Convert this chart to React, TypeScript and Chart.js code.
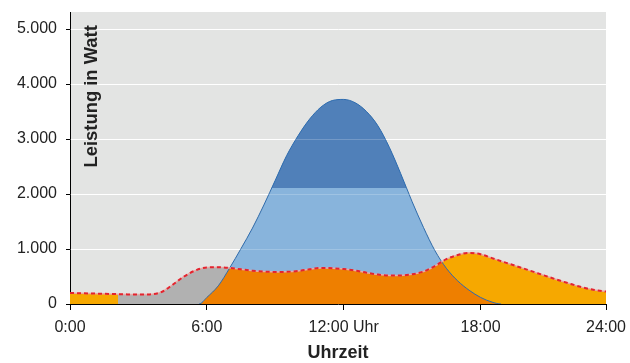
import React, { useEffect, useRef } from "react";
import { Chart, registerables } from "chart.js";

Chart.register(...registerables);

// Hours (axis units; last category 23.5 is labelled 24:00)
const consumptionHours = [0, 0.5, 1, 1.5, 2, 2.1, 2.5, 3, 3.5, 4, 4.5, 5, 5.5, 6, 6.5, 7, 7.5, 8, 8.5, 9, 9.5, 10, 10.5, 11, 11.5, 12, 12.5, 13, 13.5, 14, 14.5, 15, 15.5, 16, 16.5, 17, 17.5, 18, 18.5, 19, 19.5, 20, 20.5, 21, 21.5, 22, 22.5, 23, 23.5];
const consumptionWatt = [200, 195, 190, 185, 180, 179, 175, 172, 175, 215, 350, 500, 610, 665, 670, 655, 630, 605, 590, 582, 585, 600, 630, 655, 650, 635, 610, 570, 535, 520, 520, 540, 590, 690, 815, 890, 930, 905, 835, 765, 698, 630, 560, 490, 422, 358, 298, 256, 225];

const pvHours = [0, 5.66, 6, 6.5, 7, 7.5, 8, 8.5, 9, 9.5, 10, 10.5, 11, 11.5, 12, 12.5, 13, 13.5, 14, 14.5, 15, 15.5, 16, 16.5, 17, 17.5, 18, 18.5, 18.9, 23.5];
const pvWatt = [0, 0, 120, 330, 655, 1010, 1380, 1800, 2250, 2700, 3060, 3360, 3580, 3700, 3720, 3660, 3500, 3240, 2850, 2370, 1860, 1390, 970, 650, 420, 250, 120, 35, 0, 0];

const feedInLimit = 2110;
const gridStart = 2.1;
const gridEnd = 8;

const xTickValues = [0, 6, 12, 18, 23.5];
const xTickLabels = ["0:00", "6:00", "12:00 Uhr", "18:00", "24:00"];
const yTickValues = [0, 1000, 2000, 3000, 4000, 5000];
const yTickLabels = ["0", "1.000", "2.000", "3.000", "4.000", "5.000"];

const xTitle = "Uhrzeit";
const yTitle = "Leistung in Watt";

const FONT = "'Liberation Sans', Arial, sans-serif";
const DARK_BLUE_INDEX = 3;

export default function App() {
  const ref = useRef<HTMLCanvasElement | null>(null);

  useEffect(() => {
    document.body.style.margin = "0";
    const canvas = ref.current;
    if (!canvas) return;

    const cons = consumptionHours.map((x, i) => ({ x, y: consumptionWatt[i] }));
    const pv = pvHours.map((x, i) => ({ x, y: pvWatt[i] }));
    const consGrid = cons.filter((p) => p.x >= gridStart && p.x <= gridEnd);

    const base = {
      pointRadius: 0,
      borderWidth: 0,
      borderColor: "transparent",
      cubicInterpolationMode: "monotone" as const,
    };

    const bgPlugin = {
      id: "bg",
      beforeDraw(chart: any) {
        const { ctx, chartArea: a } = chart;
        ctx.save();
        ctx.fillStyle = "#e3e4e3";
        ctx.fillRect(a.left, a.top, a.right - a.left, a.bottom - a.top);
        ctx.restore();
      },
      afterDatasetDraw(chart: any, args: any) {
        if (args.index !== DARK_BLUE_INDEX) return;
        const { ctx, chartArea: a, scales } = chart;
        const line = args.meta.dataset;
        const pts = line.points;
        if (!pts || !pts.length) return;
        const yLim = scales.y.getPixelForValue(feedInLimit);
        ctx.save();
        ctx.beginPath();
        ctx.rect(a.left, a.top, a.right - a.left, yLim - a.top);
        ctx.clip();
        ctx.beginPath();
        line.path(ctx);
        ctx.lineTo(pts[pts.length - 1].x, a.bottom);
        ctx.lineTo(pts[0].x, a.bottom);
        ctx.closePath();
        ctx.fillStyle = "#5080b9";
        ctx.fill();
        ctx.restore();
      },
      afterDatasetsDraw(chart: any) {
        const { ctx, chartArea: a, scales } = chart;
        ctx.save();
        ctx.strokeStyle = "rgba(255,255,255,0.2)";
        ctx.lineWidth = 1;
        yTickValues.slice(1).forEach((v) => {
          const y = Math.round(scales.y.getPixelForValue(v)) + 0.5;
          ctx.beginPath();
          ctx.moveTo(a.left, y);
          ctx.lineTo(a.right, y);
          ctx.stroke();
        });
        ctx.restore();
      },
      afterDraw(chart: any) {
        const { ctx, chartArea: a } = chart;
        ctx.save();
        ctx.fillStyle = "#222";
        ctx.font = `bold 18px ${FONT}`;
        ctx.textAlign = "center";
        ctx.textBaseline = "middle";
        ctx.fillText(xTitle, (a.left + a.right) / 2, 353);
        ctx.translate(96.5, 167.5);
        ctx.rotate(-Math.PI / 2);
        ctx.textAlign = "left";
        ctx.textBaseline = "alphabetic";
        ctx.font = `bold 18.4px ${FONT}`;
        ctx.fillText(yTitle, 0, 0);
        ctx.restore();
      },
    };

    const chart = new Chart(canvas, {
      type: "line",
      data: {
        datasets: [
          // 0: consumption dashed line (top)
          {
            ...base,
            data: cons,
            borderColor: "#e3242f",
            borderWidth: 2,
            borderDash: [4, 3],
            fill: false,
          },
          // 1: pale underline of consumption
          {
            ...base,
            data: cons,
            borderColor: "rgba(235,170,170,0.9)",
            borderWidth: 1.5,
            fill: false,
          },
          // 2: PV outline
          {
            ...base,
            data: pv,
            borderColor: "#2c6cb3",
            borderWidth: 1,
            fill: false,
            segment: {
              borderColor: (c: any) =>
                c.p0.parsed.y === 0 && c.p1.parsed.y === 0 ? "transparent" : undefined,
            },
          },
          // 3: PV above feed-in limit (dark blue, filled by plugin)
          {
            ...base,
            data: pv,
            fill: false,
          },
          // 4: grid purchase (gray)
          {
            ...base,
            data: consGrid,
            fill: { target: 6, above: "#b1b1b1", below: "transparent" },
          },
          // 5: consumption above PV (yellow)
          {
            ...base,
            data: cons,
            fill: { target: 6, above: "#f6a800", below: "transparent" },
          },
          // 6: PV above consumption (light blue)
          {
            ...base,
            data: pv,
            fill: { target: 7, above: "#88b4dc", below: "transparent" },
          },
          // 7: self consumption base (dark orange)
          {
            ...base,
            data: cons,
            fill: { target: "origin", above: "#ee7f00", below: "#ee7f00" },
          },
        ] as any,
      },
      options: {
        animation: false,
        responsive: false,
        layout: { padding: { left: 0, right: 24, top: 12, bottom: 0 } },
        plugins: { legend: { display: false }, tooltip: { enabled: false } },
        scales: {
          x: {
            type: "linear",
            min: 0,
            max: 23.5,
            afterBuildTicks: (s: any) => {
              s.ticks = xTickValues.map((v) => ({ value: v }));
            },
            afterFit: (s: any) => {
              s.height = 59;
              s.paddingLeft = 0;
              s.paddingRight = 0;
            },
            ticks: {
              autoSkip: false,
              maxRotation: 0,
              padding: 8,
              color: "#222",
              font: { family: FONT, size: 16 },
              callback: (v: any) => {
                const i = xTickValues.indexOf(Number(v));
                return i >= 0 ? xTickLabels[i] : "";
              },
            },
            grid: {
              drawOnChartArea: false,
              drawTicks: true,
              tickLength: 6,
              tickColor: "#000",
            },
            border: { color: "#000", width: 1 },
          },
          y: {
            type: "linear",
            min: 0,
            max: 5310,
            afterBuildTicks: (s: any) => {
              s.ticks = yTickValues.map((v) => ({ value: v }));
            },
            afterFit: (s: any) => {
              s.width = 70;
              s.paddingTop = 0;
              s.paddingBottom = 0;
            },
            ticks: {
              padding: 9,
              color: "#222",
              font: { family: FONT, size: 16 },
              callback: (v: any) => {
                const i = yTickValues.indexOf(Number(v));
                return i >= 0 ? yTickLabels[i] : "";
              },
            },
            grid: {
              color: "#ffffff",
              lineWidth: 1,
              tickLength: 4,
              tickColor: "#000",
            },
            border: { color: "#000", width: 1 },
          },
        },
      },
      plugins: [bgPlugin],
    });

    return () => chart.destroy();
  }, []);

  return (
    <div style={{ width: 630, height: 363 }}>
      <canvas ref={ref} width={630} height={363} style={{ display: "block" }} />
    </div>
  );
}
